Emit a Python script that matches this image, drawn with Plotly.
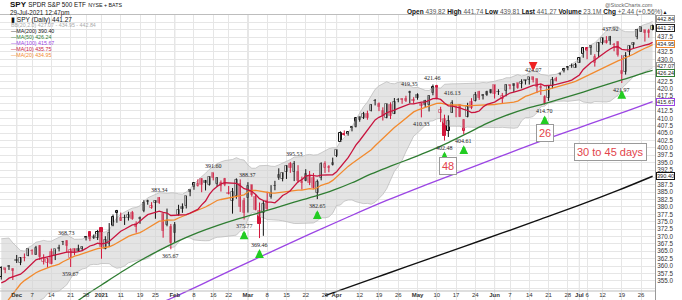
import plotly.graph_objects as go
import pandas as pd

# ---------------- data (dividend-adjusted SPY daily, as charted) ----------------
dates = ("2020-11-24 2020-11-25 2020-11-27 2020-11-30 "
         "2020-12-01 2020-12-02 2020-12-03 2020-12-04 2020-12-07 2020-12-08 2020-12-09 2020-12-10 2020-12-11 "
         "2020-12-14 2020-12-15 2020-12-16 2020-12-17 2020-12-18 2020-12-21 2020-12-22 2020-12-23 2020-12-24 "
         "2020-12-28 2020-12-29 2020-12-30 2020-12-31 "
         "2021-01-04 2021-01-05 2021-01-06 2021-01-07 2021-01-08 2021-01-11 2021-01-12 2021-01-13 2021-01-14 "
         "2021-01-15 2021-01-19 2021-01-20 2021-01-21 2021-01-22 2021-01-25 2021-01-26 2021-01-27 2021-01-28 2021-01-29 "
         "2021-02-01 2021-02-02 2021-02-03 2021-02-04 2021-02-05 2021-02-08 2021-02-09 2021-02-10 2021-02-11 2021-02-12 "
         "2021-02-16 2021-02-17 2021-02-18 2021-02-19 2021-02-22 2021-02-23 2021-02-24 2021-02-25 2021-02-26 "
         "2021-03-01 2021-03-02 2021-03-03 2021-03-04 2021-03-05 2021-03-08 2021-03-09 2021-03-10 2021-03-11 2021-03-12 "
         "2021-03-15 2021-03-16 2021-03-17 2021-03-18 2021-03-19 2021-03-22 2021-03-23 2021-03-24 2021-03-25 2021-03-26 "
         "2021-03-29 2021-03-30 2021-03-31 "
         "2021-04-01 2021-04-05 2021-04-06 2021-04-07 2021-04-08 2021-04-09 2021-04-12 2021-04-13 2021-04-14 2021-04-15 "
         "2021-04-16 2021-04-19 2021-04-20 2021-04-21 2021-04-22 2021-04-23 2021-04-26 2021-04-27 2021-04-28 2021-04-29 2021-04-30 "
         "2021-05-03 2021-05-04 2021-05-05 2021-05-06 2021-05-07 2021-05-10 2021-05-11 2021-05-12 2021-05-13 2021-05-14 "
         "2021-05-17 2021-05-18 2021-05-19 2021-05-20 2021-05-21 2021-05-24 2021-05-25 2021-05-26 2021-05-27 2021-05-28 "
         "2021-06-01 2021-06-02 2021-06-03 2021-06-04 2021-06-07 2021-06-08 2021-06-09 2021-06-10 2021-06-11 2021-06-14 "
         "2021-06-15 2021-06-16 2021-06-17 2021-06-18 2021-06-21 2021-06-22 2021-06-23 2021-06-24 2021-06-25 2021-06-28 "
         "2021-06-29 2021-06-30 "
         "2021-07-01 2021-07-02 2021-07-06 2021-07-07 2021-07-08 2021-07-09 2021-07-12 2021-07-13 2021-07-14 2021-07-15 "
         "2021-07-16 2021-07-19 2021-07-20 2021-07-21 2021-07-22 2021-07-23 2021-07-26 2021-07-27 2021-07-28 2021-07-29").split()

opens = [356.31, 359.23, 359.94, 358.93,
         361.67, 360.92, 362.78, 363.42, 365.07, 363.82, 366.93, 361.47, 361.00, 364.74, 363.50, 365.87, 367.99,
         368.57, 362.60, 365.83, 365.90, 365.70, 369.33, 371.39, 369.93, 369.37,
         372.88, 365.71, 367.31, 373.66, 378.12, 375.40, 376.43, 376.24, 378.12, 374.28, 375.89, 378.64, 382.00, 379.77,
         381.18, 382.91, 377.76, 373.92, 373.20,
         371.30, 377.19, 379.96, 380.48, 385.68, 386.75, 387.09, 389.58, 388.71, 387.32, 391.41, 387.89, 387.07, 389.53,
         384.55, 382.17, 383.83, 387.88, 381.86,
         383.09, 387.29, 383.29, 378.75, 378.00, 382.17, 383.35, 387.17, 389.69, 389.53, 391.78, 394.50, 391.97, 391.92,
         388.61, 388.76, 390.64, 389.73, 384.73, 389.66, 393.12, 393.14, 394.06,
         397.11, 402.15, 404.44, 404.62, 406.60, 407.06, 409.51, 410.19, 411.49, 412.40, 415.89, 414.91, 412.56, 410.17,
         414.54, 411.53, 416.08, 416.57, 416.45, 418.95, 416.27,
         418.07, 414.72, 416.02, 414.48, 418.53, 421.13, 411.76, 409.89, 405.75, 411.87, 414.04, 414.45, 405.60, 410.46,
         415.52, 415.98, 418.96, 418.05, 418.80, 419.60,
         421.20, 419.00, 416.49, 419.38, 421.22, 421.74, 421.81, 421.59, 422.82, 423.05, 424.04, 423.25, 420.30, 417.09,
         416.80, 420.85, 423.19, 424.89, 425.90, 427.17, 427.88, 427.21,
         428.87, 431.67, 433.78, 433.66, 428.78, 432.53, 435.43, 436.24, 437.40, 434.81, 436.01, 426.19, 425.68, 432.34,
         434.74, 437.52, 439.31, 439.91, 439.68, 439.82]

highs = [359.91, 359.26, 360.28, 359.22,
         363.74, 363.06, 364.25, 365.90, 365.67, 366.83, 367.10, 363.96, 362.84, 365.90, 365.64, 367.21, 368.51,
         368.74, 366.01, 365.95, 367.23, 366.64, 370.18, 371.58, 370.68, 372.23,
         373.02, 370.09, 374.54, 377.44, 379.02, 378.11, 377.40, 378.39, 378.66, 375.13, 376.77, 382.30, 382.46, 381.64,
         382.28, 383.35, 377.86, 379.45, 374.23,
         374.89, 380.74, 381.21, 383.74, 385.95, 388.03, 389.35, 389.74, 389.15, 390.35, 391.62, 390.12, 388.98, 389.84,
         387.10, 386.43, 389.69, 389.34, 383.08,
         388.39, 387.54, 384.32, 381.51, 382.27, 385.17, 387.38, 388.86, 393.09, 391.66, 394.12, 395.25, 395.54, 394.15,
         390.30, 392.79, 392.18, 391.47, 389.28, 395.12, 395.46, 394.16, 396.71,
         399.37, 405.62, 405.92, 405.64, 407.25, 410.33, 410.59, 412.19, 412.61, 414.81, 416.55, 415.39, 413.74, 414.94,
         415.43, 416.89, 416.86, 416.78, 417.65, 419.35, 417.18,
         418.48, 415.25, 416.27, 417.85, 421.46, 421.37, 413.92, 411.25, 411.01, 416.13, 414.24, 414.71, 409.71, 415.28,
         416.84, 418.95, 419.34, 418.25, 419.35, 419.88,
         421.35, 419.86, 418.62, 421.55, 421.41, 421.83, 421.89, 423.25, 423.05, 423.99, 424.07, 423.49, 421.65, 417.83,
         421.06, 424.00, 424.05, 425.55, 427.09, 427.65, 428.56, 428.78,
         430.60, 434.10, 434.01, 434.76, 431.73, 435.84, 437.35, 437.84, 437.92, 435.53, 436.06, 431.41, 432.42, 434.70,
         435.72, 440.30, 441.03, 439.94, 440.30, 441.74]

lows = [355.40, 357.58, 358.68, 355.27,
        361.03, 360.30, 361.60, 363.32, 363.82, 363.77, 362.05, 360.53, 359.36, 360.57, 362.02, 364.97, 367.10,
        364.64, 359.67, 363.66, 364.84, 365.07, 368.67, 368.43, 369.16, 368.82,
        362.46, 365.66, 366.73, 373.47, 374.66, 375.27, 373.92, 375.40, 375.65, 371.28, 374.31, 378.22, 380.77, 379.37,
        376.01, 381.05, 369.60, 373.45, 365.67,
        367.98, 377.04, 378.01, 379.49, 383.64, 385.83, 386.90, 384.99, 385.59, 387.24, 388.99, 386.81, 385.23, 387.03,
        384.23, 377.74, 382.77, 378.31, 375.77,
        378.10, 383.50, 378.84, 369.46, 370.23, 378.95, 382.81, 385.65, 389.20, 388.67, 389.49, 391.56, 388.76, 388.22,
        385.89, 388.70, 387.40, 386.21, 382.65, 389.02, 391.53, 391.74, 394.03,
        396.89, 402.07, 404.08, 404.13, 405.61, 406.93, 408.87, 409.78, 409.53, 412.35, 414.38, 412.45, 409.26, 410.02,
        409.79, 411.45, 415.46, 414.95, 415.55, 415.09, 414.99,
        416.31, 410.33, 413.80, 412.34, 417.80, 416.45, 408.73, 402.48, 403.70, 411.84, 410.39, 410.43, 404.61, 410.33,
        413.10, 415.72, 416.26, 416.40, 417.63, 418.43,
        416.72, 417.93, 414.93, 417.48, 419.82, 418.95, 420.04, 420.18, 421.45, 421.45, 422.16, 418.56, 417.96, 414.70,
        415.93, 420.08, 422.51, 424.62, 425.55, 426.30, 427.13, 427.18,
        428.80, 430.52, 430.01, 431.51, 427.52, 430.71, 434.97, 435.31, 434.91, 432.72, 430.92, 421.97, 424.83, 431.01,
        433.69, 436.79, 439.26, 435.99, 437.31, 439.81]

closes = [359.32, 358.76, 359.77, 358.16,
          362.12, 362.89, 362.79, 365.90, 365.14, 366.22, 362.95, 362.83, 362.40, 360.76, 365.64, 366.22, 368.29,
          366.79, 365.48, 364.86, 365.19, 366.61, 369.76, 369.05, 369.58, 371.46,
          366.40, 368.92, 371.13, 376.64, 378.79, 376.24, 376.32, 377.33, 376.01, 373.27, 376.20, 381.40, 381.75, 380.40,
          381.90, 381.30, 371.98, 375.18, 367.67,
          373.79, 379.08, 379.38, 383.69, 385.20, 387.98, 387.72, 387.55, 388.18, 390.10, 389.76, 389.85, 388.19, 387.50,
          384.52, 384.99, 389.23, 379.85, 377.90,
          387.06, 384.04, 378.95, 374.26, 381.14, 379.25, 384.66, 387.06, 390.98, 391.51, 393.84, 393.34, 394.69, 388.94,
          388.21, 391.31, 388.23, 386.26, 388.43, 394.69, 394.49, 393.45, 395.04,
          399.31, 405.04, 404.80, 405.27, 407.19, 410.15, 410.30, 411.52, 410.11, 414.52, 415.90, 413.86, 410.83, 414.72,
          410.93, 415.39, 416.25, 416.16, 416.04, 418.69, 415.94,
          416.84, 414.27, 414.40, 417.71, 420.75, 416.58, 412.86, 404.09, 408.95, 415.23, 414.17, 410.60, 409.52, 413.93,
          413.59, 417.81, 416.88, 417.71, 417.93, 418.67,
          418.31, 418.96, 417.41, 421.23, 420.82, 420.91, 420.28, 422.23, 422.93, 423.88, 423.10, 420.74, 420.60, 414.92,
          420.86, 423.11, 422.60, 425.10, 426.61, 427.47, 427.70, 428.06,
          430.43, 433.72, 432.93, 434.46, 430.92, 435.52, 437.08, 435.59, 436.24, 434.75, 431.34, 424.97, 431.06, 434.55,
          435.46, 439.94, 441.02, 439.01, 438.83, 441.27]

# closes of the 20 sessions before the first visible bar (for the 10/20-day indicators)
warmup_closes = [334.59, 323.16, 326.44, 323.04, 326.66, 332.42, 339.85, 346.48, 346.40, 350.76,
                 350.24, 352.84, 349.42, 354.26, 358.68, 356.75, 352.46, 353.94, 351.52, 353.62]

# long moving averages
ma50_dates = ["2020-12-21", "2020-12-28", "2021-01-04", "2021-01-11", "2021-01-19", "2021-01-26", "2021-02-02",
              "2021-02-09", "2021-02-17", "2021-02-24", "2021-03-03", "2021-03-10", "2021-03-17", "2021-03-24",
              "2021-03-31", "2021-04-08", "2021-04-15", "2021-04-22", "2021-04-29", "2021-05-06", "2021-05-13",
              "2021-05-20", "2021-05-27", "2021-06-04", "2021-06-11", "2021-06-18", "2021-06-25", "2021-07-02",
              "2021-07-12", "2021-07-19", "2021-07-26", "2021-07-29"]
ma50_vals = [346.5, 350.2, 353.6, 357.8, 361.8, 365.3, 368.5, 371.3, 373.7, 375.8, 377.7, 379.6, 381.6, 383.5,
             385.6, 388.2, 391.2, 393.8, 396.3, 398.9, 401.8, 405.0, 408.3, 411.0, 413.2, 415.0, 416.9, 418.9,
             421.0, 423.0, 425.1, 426.24]
ma100_dates = ["2021-01-25", "2021-01-29", "2021-02-10", "2021-02-23", "2021-03-09", "2021-03-23", "2021-04-07",
               "2021-04-21", "2021-05-05", "2021-05-19", "2021-06-03", "2021-06-17", "2021-07-01", "2021-07-16",
               "2021-07-29"]
ma100_vals = [346.8, 349.0, 353.8, 358.8, 364.8, 370.8, 376.6, 382.2, 387.4, 392.4, 397.4, 402.3, 406.9, 411.4,
              415.67]
ma200_dates = ["2021-03-29", "2021-04-07", "2021-04-21", "2021-05-05", "2021-05-19", "2021-06-03", "2021-06-17",
               "2021-07-01", "2021-07-16", "2021-07-29"]
ma200_vals = [350.0, 352.8, 357.4, 362.0, 366.6, 371.2, 375.9, 380.6, 385.6, 390.40]

tick_dates = ["2020-12-01", "2020-12-07", "2020-12-14", "2020-12-21", "2020-12-28", "2021-01-04", "2021-01-11",
              "2021-01-19", "2021-01-25", "2021-02-01", "2021-02-08", "2021-02-16", "2021-02-22", "2021-03-01",
              "2021-03-08", "2021-03-15", "2021-03-22", "2021-03-29", "2021-04-01", "2021-04-12", "2021-04-19",
              "2021-04-26", "2021-05-03", "2021-05-10", "2021-05-17", "2021-05-24", "2021-06-01", "2021-06-07",
              "2021-06-14", "2021-06-21", "2021-06-28", "2021-07-01", "2021-07-06", "2021-07-12", "2021-07-19",
              "2021-07-26"]
tick_labels = ["<b>Dec</b>", "7", "14", "21", "28", "<b>2021</b>", "11", "19", "25", "<b>Feb</b>", "8", "16", "22",
               "<b>Mar</b>", "8", "15", "22", "29", "<b>Apr</b>", "12", "19", "26", "<b>May</b>", "10", "17", "24",
               "<b>Jun</b>", "7", "14", "21", "28", "<b>Jul</b>", "6", "12", "19", "26"]
month_dates = ["2020-12-01", "2021-01-04", "2021-02-01", "2021-03-01", "2021-04-01", "2021-05-03", "2021-06-01",
               "2021-07-01"]

# price call-outs: (date, value, above/below)
callouts = [("2020-12-18", "368.73", 1), ("2020-12-21", "359.67", -1), ("2021-01-26", "383.34", 1),
            ("2021-01-29", "365.67", -1), ("2021-02-16", "391.60", 1), ("2021-03-01", "388.37", 1),
            ("2021-02-26", "375.77", -1), ("2021-03-04", "369.46", -1), ("2021-03-17", "395.53", 1),
            ("2021-03-25", "382.65", -1), ("2021-04-29", "419.35", 1), ("2021-05-07", "421.46", 1),
            ("2021-05-04", "410.33", -1), ("2021-05-14", "416.13", 1), ("2021-05-12", "402.48", -1),
            ("2021-05-19", "404.61", -1), ("2021-06-15", "424.07", 1), ("2021-06-18", "414.70", -1),
            ("2021-07-19", "421.97", -1), ("2021-07-14", "437.92", 1)]
up_arrows = ["2021-02-26", "2021-03-04", "2021-03-25", "2021-05-12", "2021-05-19", "2021-06-18", "2021-07-19"]
down_arrows = ["2021-06-15"]
note_boxes = [("2021-05-13", 393.8, "48"), ("2021-06-18", 405.0, "26"), ("2021-07-14", 398.5, "30 to 45 days")]

# ---------------- derived ----------------
pos = {d: i for i, d in enumerate(dates)}
xi = list(range(len(dates)))
allc = pd.Series(warmup_closes + closes)
n_w = len(warmup_closes)
ma10 = allc.rolling(10).mean().iloc[n_w:].tolist()
ma20 = allc.rolling(20).mean().iloc[n_w:].tolist()
sd20 = allc.rolling(20).std(ddof=0).iloc[n_w:].tolist()
bb_up = [m + 2 * s for m, s in zip(ma20, sd20)]
bb_lo = [m - 2 * s for m, s in zip(ma20, sd20)]

RED = "#d3163b"
BLK = "#111111"
prev = [warmup_closes[-1]] + closes[:-1]
edge, fill, base, hgt = [], [], [], []
for k, (o, c, p) in enumerate(zip(opens, closes, prev)):
    e = BLK if c >= p else RED
    f = "white" if c > o else e
    if k == len(closes) - 1:
        f = "#ffff55"
    edge.append(e)
    fill.append(f)
    base.append(min(o, c))
    hgt.append(max(abs(c - o), 0.08))

fig = go.Figure()

# Bollinger band
fig.add_trace(go.Scatter(x=xi, y=bb_up, mode="lines", line=dict(color="#b8b8b8", width=0.7), hoverinfo="skip"))
fig.add_trace(go.Scatter(x=xi, y=bb_lo, mode="lines", line=dict(color="#b8b8b8", width=0.7), fill="tonexty",
                         fillcolor="rgba(210,210,210,0.6)", hoverinfo="skip"))

# wicks
for col in (BLK, RED):
    wx, wy = [], []
    for k in xi:
        if edge[k] == col:
            wx += [k, k, None]
            wy += [lows[k], highs[k], None]
    fig.add_trace(go.Scatter(x=wx, y=wy, mode="lines", line=dict(color=col, width=1), hoverinfo="skip"))

# bodies
fig.add_trace(go.Bar(x=xi, y=hgt, base=base, width=0.62,
                     marker=dict(color=fill, line=dict(color=edge, width=1)), hoverinfo="skip"))

# moving averages
fig.add_trace(go.Scatter(x=[pos[d] for d in ma200_dates], y=ma200_vals, mode="lines", line_shape="spline",
                         line=dict(color="#111111", width=1.4)))
fig.add_trace(go.Scatter(x=[pos[d] for d in ma100_dates], y=ma100_vals, mode="lines", line_shape="spline",
                         line=dict(color="#9b45e4", width=1.3)))
fig.add_trace(go.Scatter(x=[pos[d] for d in ma50_dates], y=ma50_vals, mode="lines", line_shape="spline",
                         line=dict(color="#2f7d32", width=1.3)))
fig.add_trace(go.Scatter(x=xi, y=ma20, mode="lines", line=dict(color="#f28a2e", width=1.3)))
fig.add_trace(go.Scatter(x=xi, y=ma10, mode="lines", line=dict(color="#c8143e", width=1.3)))

ann = []
# callouts
for d, v, s in callouts:
    ann.append(dict(x=pos[d], y=float(v), xref="x", yref="y", text=v, showarrow=False,
                    yshift=7 * s, font=dict(family="Liberation Serif", size=6, color="#222")))
# arrows
for d in up_arrows:
    k = pos[d]
    so = 7 if d == "2021-07-19" else 11
    ann.append(dict(x=k, y=lows[k], xref="x", yref="y", ax=0, ay=so + 9, text="", showarrow=True,
                    arrowhead=2, arrowsize=0.55, arrowwidth=3.2, arrowcolor="#22cc22", standoff=so))
for d in down_arrows:
    k = pos[d]
    ann.append(dict(x=k, y=highs[k], xref="x", yref="y", ax=0, ay=-(6 + 9), text="", showarrow=True,
                    arrowhead=2, arrowsize=0.55, arrowwidth=3.2, arrowcolor="#ee2222", standoff=6))
# note boxes
for d, v, t in note_boxes:
    ann.append(dict(x=pos[d], y=v, xref="x", yref="y", text=t, showarrow=False,
                    font=dict(family="Liberation Sans", size=11, color="#e2434b"),
                    bordercolor="#9a9a9a", borderwidth=1, borderpad=2, bgcolor="white"))

# right-side value boxes (value, border colour, pixel nudge to keep neighbours apart);
# the MA(10) box sits hidden under the MA(20) box, as on the original
val_boxes = [(bb_up[-1], "#999999", 2), (closes[-1], "#222222", -2),
             (ma20[-1], "#f28a2e", 0.8), (bb_lo[-1], "#999999", 1.5), (ma50_vals[-1], "#2f7d32", -3),
             (ma100_vals[-1], "#9b45e4", 0), (ma200_vals[-1], "#111111", 0)]
for v, c, sh in val_boxes:
    ann.append(dict(x=1, y=v, xref="paper", yref="y", xanchor="left", xshift=1, yshift=sh, text=f"{v:.2f}",
                    showarrow=False, font=dict(family="Liberation Sans", size=5.6, color="#222"),
                    bordercolor=c, borderwidth=1, borderpad=0, bgcolor="white"))

# header
T = 15.0
PH = 285.0
PW = 655.0
def py(pix):
    return 1 + (T - pix) / PH
def px(pix):
    return pix / PW
ann.append(dict(x=px(8), y=py(4.6), xref="paper", yref="paper", xanchor="left", yanchor="middle", showarrow=False,
                text="<b>SPY</b> <span style='font-size:6.3px'>SPDR S&P 500 ETF</span>"
                     " <span style='font-size:5.3px'>NYSE + BATS</span>",
                font=dict(family="Liberation Sans", size=8, color="#111")))
ann.append(dict(x=px(8), y=py(12.6), xref="paper", yref="paper", xanchor="left", yanchor="middle", showarrow=False,
                text="29-Jul-2021 12:47pm", font=dict(family="Liberation Sans", size=6.3, color="#222")))
ann.append(dict(x=px(655), y=py(4.5), xref="paper", yref="paper", xanchor="right", yanchor="middle", showarrow=False,
                text="@StockCharts.com", font=dict(family="Liberation Sans", size=5.5, color="#666")))
hdr = ("<b>Open</b> <span style='color:#555'>439.82</span> <b>High</b> <span style='color:#555'>441.74</span> "
       "<b>Low</b> <span style='color:#555'>439.81</span> <b>Last</b> <span style='color:#555'>441.27</span> "
       "<b>Volume</b> <span style='color:#555'>23.1M</span> <b>Chg</b> "
       "<span style='color:#555'>+2.44 (+0.56%)</span><span style='font-size:5px'>▲</span>")
ann.append(dict(x=px(669), y=py(12.3), xref="paper", yref="paper", xanchor="right", yanchor="middle", showarrow=False,
                text=hdr, font=dict(family="Liberation Sans", size=6.5, color="#111")))

# legend block (inside plot, top-left)
leg = [("<span style='color:#111'>▮</span> SPY (Daily) 441.27", "#111", 6.5),
       (f"BB(20,2.0) {bb_lo[-1]:.2f} - {ma20[-1]:.2f} - {bb_up[-1]:.2f}", "#aaaaaa", 5.3),
       ("<span style='color:#111'>—</span>MA(200) 390.40", "#111", 5.3),
       ("<span style='color:#2f7d32'>—</span>MA(50) 426.24", "#2f7d32", 5.3),
       ("<span style='color:#9b45e4'>—</span>MA(100) 415.67", "#9b45e4", 5.3),
       (f"<span style='color:#c8143e'>—</span>MA(10) {ma10[-1]:.2f}", "#c8143e", 5.3),
       (f"<span style='color:#f28a2e'>—</span>MA(20) {ma20[-1]:.2f}", "#f28a2e", 5.3)]
leg_y = [19.5, 25.3, 31.2, 37.3, 43.3, 49.3, 55.2]
for (t, c, s), yy in zip(leg, leg_y):
    ann.append(dict(x=px(9), y=py(yy), xref="paper", yref="paper", xanchor="left", yanchor="middle",
                    showarrow=False, text=t, font=dict(family="Liberation Sans", size=s, color=c)))

shapes = [dict(type="line", xref="x", yref="paper", x0=pos[d], x1=pos[d], y0=0, y1=1,
               line=dict(color="#c4c4c4", width=1), layer="below") for d in month_dates]
shapes.append(dict(type="line", xref="paper", yref="paper", x0=0, x1=1, y0=(300 - 291) / PH, y1=(300 - 291) / PH,
                   line=dict(color="#bdbdbd", width=1)))

# y tick labels (hidden where a value box sits on top of them)
box_vals = [v for v, _, _ in val_boxes]
yt = [350 + 2.5 * k for k in range(39)]
ytt = []
for v in yt:
    hidden = (v < 355 or v > 437.5 or any(abs(v - b) < 1.7 for b in box_vals))
    ytt.append("" if hidden else f"{v:.1f}")

fig.update_layout(
    width=682, height=300, margin=dict(l=0, r=27, t=15, b=0),
    paper_bgcolor="white", plot_bgcolor="white", showlegend=False, bargap=0,
    annotations=ann, shapes=shapes,
    xaxis=dict(range=[-0.33, 169.62], tickvals=[pos[d] for d in tick_dates], ticktext=tick_labels,
               ticklabelposition="inside", tickangle=0,
               tickfont=dict(family="Liberation Sans", size=6, color="#333"),
               showgrid=True, gridcolor="#e6e6e6", gridwidth=1, zeroline=False, ticks="",
               showline=True, linecolor="#bdbdbd", mirror=True, automargin=False, fixedrange=True),
    yaxis=dict(side="right", range=[348.5, 445.0], tickvals=yt, ticktext=ytt,
               tickfont=dict(family="Liberation Sans", size=6.3, color="#333"),
               showgrid=True, gridcolor="#e6e6e6", gridwidth=1, zeroline=False, ticks="",
               showline=True, linecolor="#9a9a9a", mirror=True, automargin=False, fixedrange=True),
)

fig.write_html("out.html")
